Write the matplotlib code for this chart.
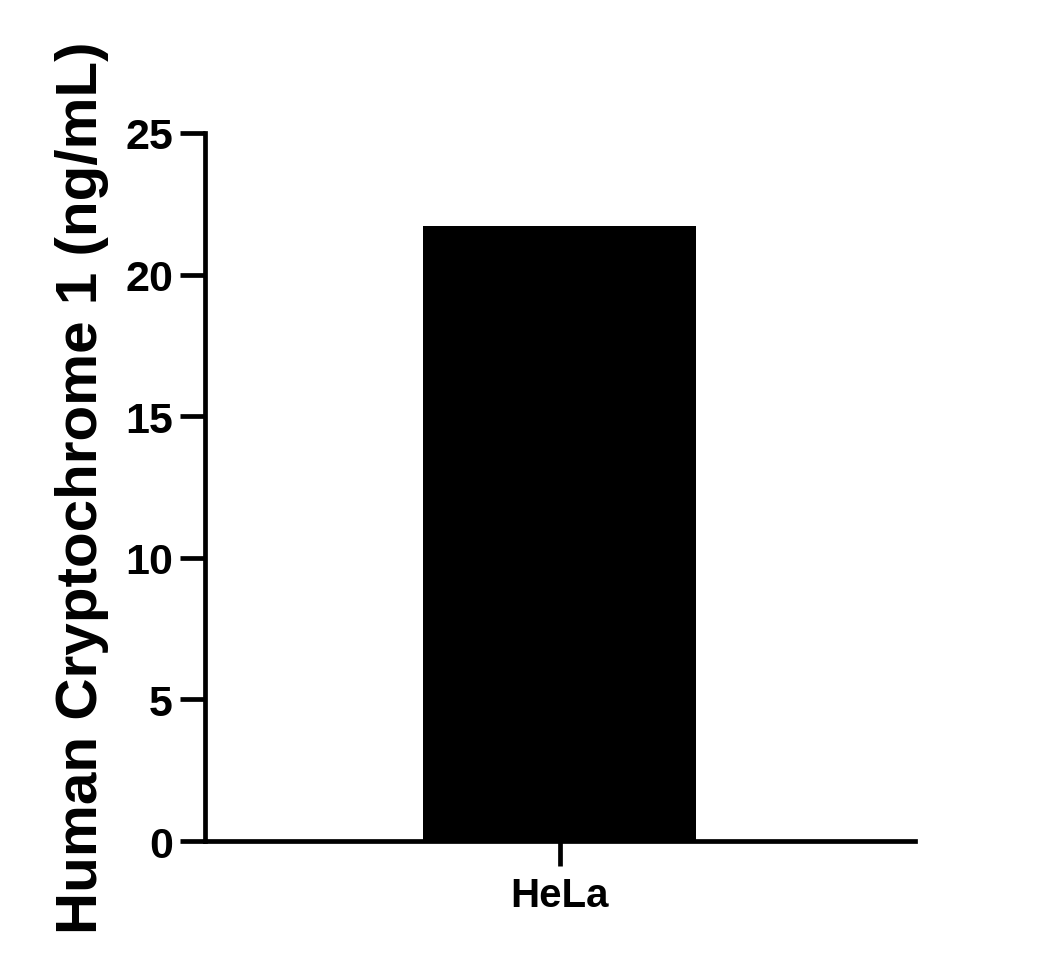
import matplotlib
matplotlib.use("Agg")
import matplotlib.pyplot as plt

# donnees
categories = ["HeLa"]
valori = [21.7]

plt.rcParams['font.family'] = ['Liberation Sans', 'DejaVu Sans']
plt.rcParams['font.weight'] = 'bold'

fig = plt.figure(figsize=(10.47, 9.78), dpi=100)
ax = fig.add_axes([0.1958, 0.139, 0.678, 0.724])

ax.bar(range(len(categories)), valori, width=1.0, color='black')

ax.set_xlim(-1.3, 1.3)
ax.set_ylim(0, 25)
ax.set_yticks([0, 5, 10, 15, 20, 25])
ax.set_xticks(range(len(categories)))
ax.set_xticklabels(categories)

for s in ['top', 'right']:
    ax.spines[s].set_visible(False)
for s in ['left', 'bottom']:
    ax.spines[s].set_linewidth(3.4)

ax.tick_params(axis='both', width=3.4, length=18)
ax.tick_params(axis='y', labelsize=31, pad=5)
ax.tick_params(axis='x', labelsize=29, pad=7)

ax.set_ylabel('Human Cryptochrome 1 (ng/mL)', fontsize=42, fontweight='bold', labelpad=12)

fig.savefig('out.png', dpi=100)
